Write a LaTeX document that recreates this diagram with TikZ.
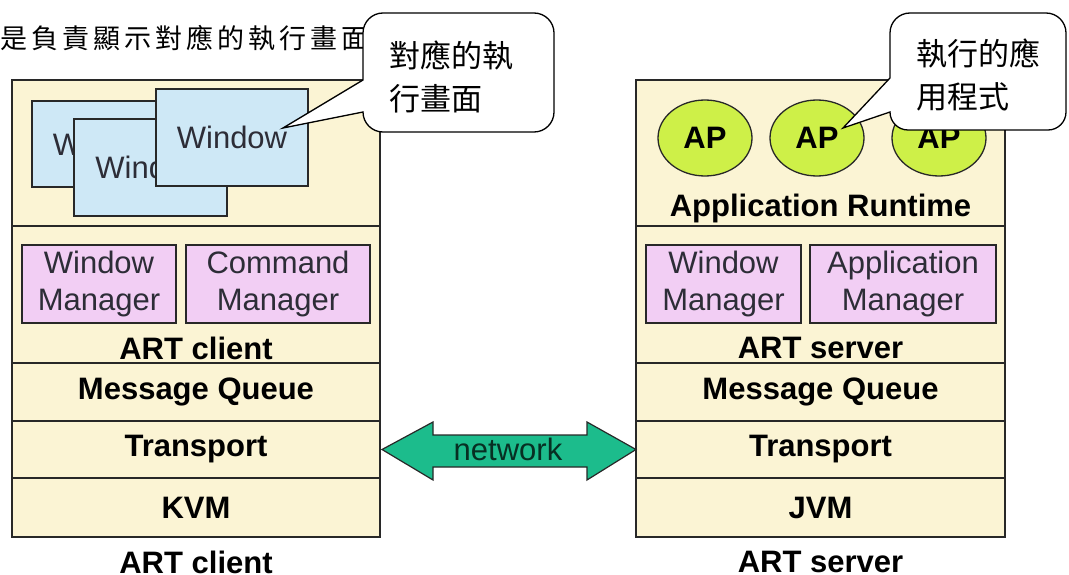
\documentclass[tikz,border=0pt]{standalone}
\usepackage{fontspec}
\setmainfont{Liberation Sans}
\newfontfamily\cjk{Noto Sans CJK TC}
\newfontfamily\cjkbody[LetterSpace=15]{Noto Sans CJK TC}
\usetikzlibrary{shapes.geometric}
\definecolor{beige}{RGB}{251,244,212}
\definecolor{winblue}{RGB}{206,232,246}
\definecolor{mgrpink}{RGB}{242,206,244}
\definecolor{apgreen}{RGB}{206,240,72}
\definecolor{netteal}{RGB}{28,188,140}
\definecolor{edge}{RGB}{40,40,40}
\definecolor{txtgray}{RGB}{45,45,55}
\begin{document}
\begin{tikzpicture}[x=1pt,y=1pt,
  every node/.style={inner sep=0pt,outer sep=0pt},
  layer/.style={draw=edge,fill=beige,line width=1.3pt,minimum width=368pt,anchor=south west},
  winbox/.style={draw=edge,fill=winblue,line width=1.3pt,anchor=south west,
    font=\fontsize{31}{37}\selectfont,text=txtgray},
  mgrbox/.style={draw=edge,fill=mgrpink,line width=1.3pt,anchor=south west,minimum height=78pt,
    font=\fontsize{31}{37}\selectfont,text=txtgray,align=center},
  boldlbl/.style={font=\fontsize{31}{37}\selectfont\bfseries},
  apnode/.style={ellipse,draw=edge,fill=apgreen,line width=1.3pt,minimum width=94pt,minimum height=76pt,
    font=\fontsize{31}{37}\selectfont\bfseries},
  callout/.style={draw=black,fill=white,line width=1.3pt},
  callouttext/.style={anchor=west,align=left,font=\cjk\fontsize{31}{43}\selectfont}]
\useasboundingbox (0,0) rectangle (1069,574);

% body text line
\node[anchor=west] (body) at (0,536) {\cjkbody\fontsize{27}{27}\selectfont 是負責顯示對應的執行畫面};

% ---------- left stack (client) ----------
\node[layer,minimum height=146pt] (lwin) at (12,348) {};
\node[layer,minimum height=137pt] (lart) at (12,211) {};
\node[layer,minimum height=58pt,boldlbl] (lmq) at (12,153) {Message Queue};
\node[layer,minimum height=57pt,boldlbl] (ltr) at (12,96) {Transport};
\node[layer,minimum height=59pt,boldlbl] (lkvm) at (12,37) {KVM};
\node[boldlbl] (lartlbl) at (196,226) {ART client};
\node[boldlbl] (lcap) at (196,12) {ART client};

\node[winbox,minimum width=152pt,minimum height=86pt] (w1) at (32,387) {Window};
\node[winbox,minimum width=153pt,minimum height=97pt] (w2) at (74,358) {Window};
\node[winbox,minimum width=152pt,minimum height=97pt] (w3) at (156,388) {Window};

\node[mgrbox,minimum width=154pt] (lwm) at (22,251) {Window\\Manager};
\node[mgrbox,minimum width=184pt] (lcm) at (186,251) {Command\\Manager};

% ---------- right stack (server) ----------
\node[layer,minimum height=146pt,minimum width=369pt] (rrt) at (636,348) {};
\node[layer,minimum height=137pt,minimum width=369pt] (rart) at (636,211) {};
\node[layer,minimum height=58pt,minimum width=369pt,boldlbl] (rmq) at (636,153) {Message Queue};
\node[layer,minimum height=57pt,minimum width=369pt,boldlbl] (rtr) at (636,96) {Transport};
\node[layer,minimum height=59pt,minimum width=369pt,boldlbl] (rjvm) at (636,37) {JVM};
\node[boldlbl] (rartlbl) at (820.5,226) {ART server};
\node[boldlbl] (rrtlbl) at (820.5,366) {Application Runtime};
\node[boldlbl] (rcap) at (820.5,12) {ART server};

\node[apnode] (ap1) at (705,436) {AP};
\node[apnode] (ap2) at (817,436) {AP};
\node[apnode] (ap3) at (939,436) {AP};

\node[mgrbox,minimum width=155pt] (rwm) at (646,251) {Window\\Manager};
\node[mgrbox,minimum width=186pt] (ram) at (810,251) {Application\\Manager};

% ---------- network arrow ----------
\draw[draw=edge,fill=netteal,line width=1.2pt,line join=miter]
  (ltr.east) ++(2,0) coordinate (nl)
  (nl) -- (433,152) -- (433,139) -- (587,139) -- (587,152) -- (rtr.west) coordinate (nr)
  -- (587,94) -- (587,107) -- (433,107) -- (433,94) -- cycle;
\node[font=\fontsize{31}{37}\selectfont,text=black!75!netteal] (net) at (508,125) {network};

% ---------- callouts ----------
\coordinate (tip1) at (283,446);
\draw[callout] (363,494) -- (tip1) -- (363,462)
  arc[start angle=180,end angle=270,radius=20] -- (534,442)
  arc[start angle=270,end angle=360,radius=20] -- (554,541)
  arc[start angle=0,end angle=90,radius=20] -- (383,561)
  arc[start angle=90,end angle=180,radius=20] -- cycle;
\node[callouttext] (c1) at (389,497.5) {對應的執\\行畫面};

\coordinate (tip2) at (843,446);
\draw[callout] (890,496) -- (tip2) -- (890,462)
  arc[start angle=180,end angle=270,radius=18] -- (1048,444)
  arc[start angle=270,end angle=360,radius=18] -- (1066,541)
  arc[start angle=0,end angle=90,radius=20] -- (910,561)
  arc[start angle=90,end angle=180,radius=20] -- cycle;
\node[callouttext] (c2) at (916,499) {執行的應\\用程式};
\end{tikzpicture}
\end{document}
